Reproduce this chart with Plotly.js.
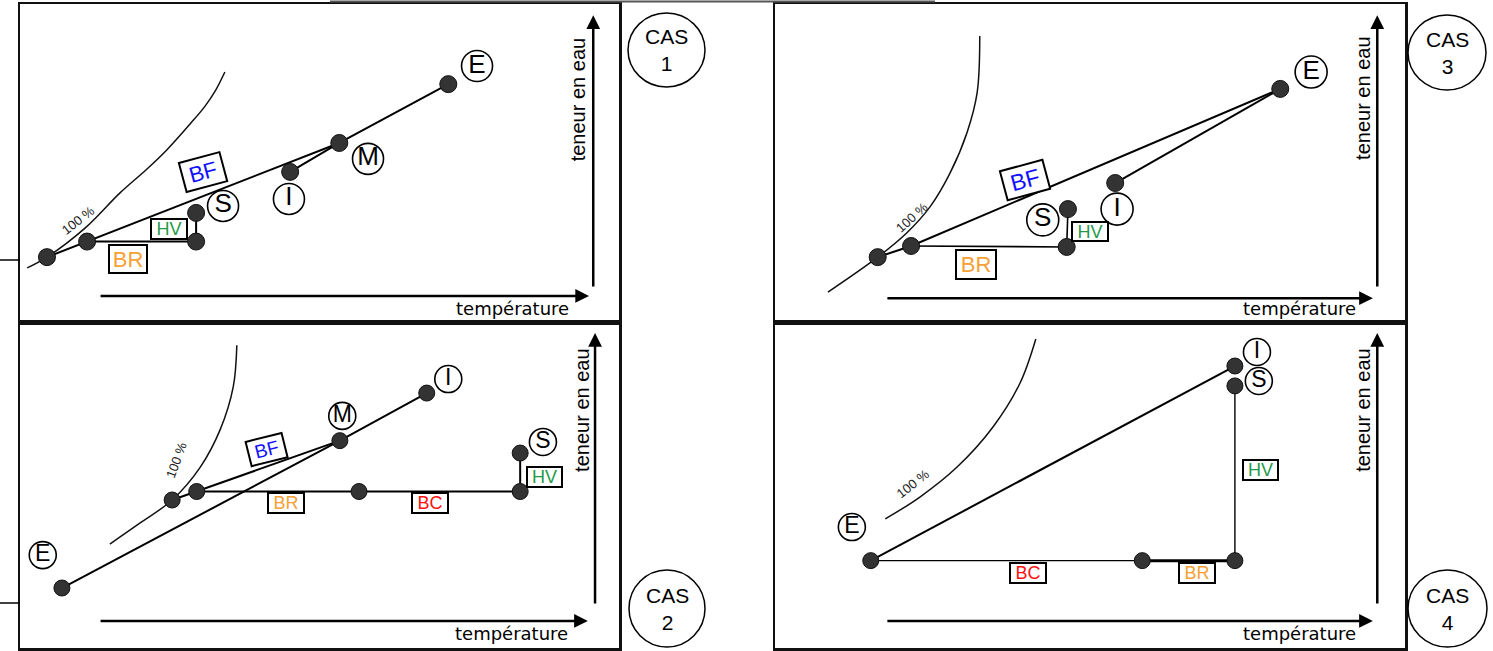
<!DOCTYPE html>
<html><head><meta charset="utf-8">
<script src="https://cdn.plot.ly/plotly-3.0.1.min.js"></script>
<style>html,body{margin:0;padding:0;background:#fff}</style>
</head><body><div id="chart" style="width:1493px;height:651px"></div>
<script>
// ---------------- DATA (temperature T / water content W, arbitrary units 0-100) ----------------
// CAS 1
const cas1_names = ['E','M','I','A','B','C','S'];
const cas1_T = [71.5, 53.3, 45.1, 4.5, 11.2, 29.4, 29.4];
const cas1_W = [74.8, 56.3, 47.2, 20.4, 25.3, 25.3, 34.3];
const cas1_paths = [['E','M','I'], ['M','B','A'], ['B','C','S']];
const cas1_curveT = [1.2, 4.5, 10.9, 16.7, 21.2, 24.5, 28.4, 30.9, 32.7, 34.2];
const cas1_curveW = [17.0, 20.4, 29.6, 40.6, 48.1, 54.1, 62.3, 67.9, 73.0, 78.6];
const cas1_labels = ['E','M','I','S'];
const cas1_labelT = [76.3, 58.1, 44.9, 33.9];
const cas1_labelW = [80.5, 51.3, 38.7, 36.5];
const cas1_boxes = ['BF','HV','BR'];
const cas1_boxT = [30.6, 24.9, 18.0];
const cas1_boxW = [47.2, 29.2, 19.8];

// CAS 2
const cas2_names = ['E','M','I','A','B','D','C','S'];
const cas2_T = [7.0, 53.4, 67.9, 25.4, 29.5, 56.6, 83.5, 83.5];
const cas2_W = [18.4, 63.6, 78.2, 45.4, 48.0, 48.0, 48.0, 59.8];
const cas2_paths = [['E','M','I'], ['M','B','A'], ['B','D','C','S']];
const cas2_curveT = [15.0, 20.0, 25.4, 30.1, 33.4, 35.6, 36.2];
const cas2_curveW = [31.9, 38.3, 45.4, 55.5, 66.9, 80.1, 92.9];
const cas2_labels = ['E','M','I','S'];
const cas2_labelT = [3.8, 53.8, 71.5, 87.3];
const cas2_labelW = [28.5, 71.2, 82.5, 63.2];
const cas2_boxes = ['BF','BR','BC','HV'];
const cas2_boxT = [41.2, 44.4, 68.4, 87.6];
const cas2_boxW = [61.0, 44.5, 44.5, 52.5];

// CAS 3
const cas3_names = ['E','I','A','B','C','S'];
const cas3_T = [80.2, 54.0, 16.3, 21.6, 46.3, 46.5];
const cas3_W = [73.3, 43.7, 20.4, 23.9, 23.6, 35.5];
const cas3_paths = [['E','I'], ['E','B','A'], ['B','C','S']];
const cas3_curveT = [8.4, 16.3, 20.9, 24.6, 27.8, 30.5, 32.1, 32.5];
const cas3_curveW = [9.4, 20.4, 28.0, 36.2, 46.9, 59.7, 72.3, 89.9];
const cas3_labels = ['E','S','I'];
const cas3_labelT = [85.1, 42.5, 54.3];
const cas3_labelW = [78.6, 32.1, 35.5];
const cas3_boxes = ['BF','HV','BR'];
const cas3_boxT = [39.7, 50.0, 31.9];
const cas3_boxW = [44.7, 28.6, 18.2];

// CAS 4
const cas4_names = ['E','I','D','C','S'];
const cas4_T = [15.2, 73.0, 58.3, 73.0, 73.0];
const cas4_W = [26.8, 86.5, 26.8, 26.8, 80.4];
const cas4_paths = [['E','I'], ['E','D'], ['D','C'], ['C','S']];
const cas4_curveT = [17.5, 23.0, 28.9, 34.6, 38.9, 41.4];
const cas4_curveW = [39.6, 46.3, 55.5, 67.8, 81.3, 94.8];
const cas4_labels = ['E','I','S'];
const cas4_labelT = [12.2, 76.5, 76.8];
const cas4_labelW = [37.1, 90.8, 81.9];
const cas4_boxes = ['BC','BR','HV'];
const cas4_boxT = [40.2, 67.0, 77.1];
const cas4_boxW = [23.0, 23.0, 54.6];

// "100 %" label positions
const pctT = [9.7, 26.2, 21.7, 21.9];
const pctW = [31.8, 57.7, 33.0, 50.6];

const casTitles = ['1','2','3','4'];
const axisTitleX = 'température';
const axisTitleY = 'teneur en eau';

// ---------------- LAYOUT / STYLE ----------------
const FW = 1493, FH = 651;
const FONT = 'Liberation Sans, Arial, sans-serif';
const boxColor = {BF:'#1010ff', HV:'#239a48', BR:'#f7a035', BC:'#ff1010'};
// panel pixel boxes [left,right,top,bottom]
const panelPx = [[20,619,4,322],[20,619,322,648],[775,1405,4,322],[775,1405,322,648]];
const pathWidth = [[2,2,2],[2,2,2],[2,2,1.6],[2,1.4,3,1.4]];
const boxAngle = [[-15,0,0],[-14,0,0,0],[-15,0,0],[0,0,0]];
const boxSize = [
  [[38,26,22],[32,16,18],[34,24,22]],
  [[33,21,19],[32,16,18],[32,16,18],[31,16,18]],
  [[40,26,23],[32,15,18],[36,25,22]],
  [[32,16,18],[32,16,18],[31,16,18]]
];
const pctAngle = [-38,-70,-42,-38];
const labelSize = [31,27,32,27];
const labelFont = [26,23,26,23];
const dotSize = [17,16,17,16];
// decorations in axis units: [hArrow y, hx0, hx1, vArrow x, vy0, vy1, tempRight, tempY, tenX, tenY]
const deco = [
  [8.2,13.2,95.0, 95.7,10.7,96.5, 92.0,4.1, 93.2,69.8],
  [8.3,13.2,94.8, 96.0,13.2,96.6, 91.8,4.6, 93.8,73.0],
  [7.5,17.6,94.9, 95.6,10.7,96.5, 92.5,4.1, 93.3,70.4],
  [8.3,17.6,94.9, 95.6,13.2,96.6, 92.5,4.6, 93.3,73.0]
];
const casCircles = [[628,705,13,87],[629,705,570,647],[1408,1486,15,90],[1408,1487,570,647]];

const panels = [
  {names:cas1_names,T:cas1_T,W:cas1_W,paths:cas1_paths,cT:cas1_curveT,cW:cas1_curveW,lab:cas1_labels,lT:cas1_labelT,lW:cas1_labelW,box:cas1_boxes,bT:cas1_boxT,bW:cas1_boxW},
  {names:cas2_names,T:cas2_T,W:cas2_W,paths:cas2_paths,cT:cas2_curveT,cW:cas2_curveW,lab:cas2_labels,lT:cas2_labelT,lW:cas2_labelW,box:cas2_boxes,bT:cas2_boxT,bW:cas2_boxW},
  {names:cas3_names,T:cas3_T,W:cas3_W,paths:cas3_paths,cT:cas3_curveT,cW:cas3_curveW,lab:cas3_labels,lT:cas3_labelT,lW:cas3_labelW,box:cas3_boxes,bT:cas3_boxT,bW:cas3_boxW},
  {names:cas4_names,T:cas4_T,W:cas4_W,paths:cas4_paths,cT:cas4_curveT,cW:cas4_curveW,lab:cas4_labels,lT:cas4_labelT,lW:cas4_labelW,box:cas4_boxes,bT:cas4_boxT,bW:cas4_boxW}
];

const traces = [];
const annotations = [];
const shapes = [];
const layout = {
  width: FW, height: FH, margin:{l:0,r:0,t:0,b:0},
  paper_bgcolor:'#ffffff', plot_bgcolor:'rgba(0,0,0,0)', showlegend:false,
  font:{family:FONT, color:'#000'}
};

panels.forEach((p, i) => {
  const n = i + 1;
  const xa = n === 1 ? 'x' : 'x' + n, ya = n === 1 ? 'y' : 'y' + n;
  const xk = n === 1 ? 'xaxis' : 'xaxis' + n, yk = n === 1 ? 'yaxis' : 'yaxis' + n;
  const [L,R,Tp,B] = panelPx[i];
  const axBase = {range:[0,100], showgrid:false, zeroline:false, showticklabels:false, ticks:'',
    showline:true, mirror:true, linewidth:2.5, linecolor:'#111', fixedrange:true};
  layout[xk] = Object.assign({}, axBase, {domain:[L/FW, R/FW], anchor:ya});
  layout[yk] = Object.assign({}, axBase, {domain:[1-B/FH, 1-Tp/FH], anchor:xa});

  // saturation curve
  traces.push({type:'scatter', mode:'lines', x:p.cT, y:p.cW, xaxis:xa, yaxis:ya,
    line:{color:'#111', width:1.5, shape:'spline', smoothing:1}, hoverinfo:'skip'});
  // process paths
  p.paths.forEach((path, k) => {
    traces.push({type:'scatter', mode:'lines',
      x: path.map(nm => p.T[p.names.indexOf(nm)]),
      y: path.map(nm => p.W[p.names.indexOf(nm)]),
      xaxis:xa, yaxis:ya, line:{color:'#000', width:pathWidth[i][k]}, hoverinfo:'skip'});
  });
  // state points
  traces.push({type:'scatter', mode:'markers', x:p.T, y:p.W, xaxis:xa, yaxis:ya,
    marker:{size:dotSize[i], color:'#333', line:{color:'#111', width:1}}, hoverinfo:'skip'});
  // circled letters
  traces.push({type:'scatter', mode:'markers+text', x:p.lT, y:p.lW, text:p.lab, xaxis:xa, yaxis:ya,
    textposition:'middle center', textfont:{family:FONT, size:labelFont[i], color:'#000'},
    marker:{size:labelSize[i], color:'#fff', line:{color:'#000', width:1.6}}, hoverinfo:'skip'});
  // boxed labels
  p.box.forEach((b, k) => {
    const [bw,bh,bf] = boxSize[i][k];
    annotations.push({xref:xa, yref:ya, x:p.bT[k], y:p.bW[k], text:b, showarrow:false,
      font:{family:FONT, size:bf, color:boxColor[b]}, bgcolor:'#fff', bordercolor:'#000',
      borderwidth:2, borderpad:1, width:bw, height:bh, textangle:boxAngle[i][k], align:'center', valign:'middle'});
  });
  // 100 %
  annotations.push({xref:xa, yref:ya, x:pctT[i], y:pctW[i], text:'100 %', showarrow:false,
    textangle:pctAngle[i], font:{family:FONT, size:13, color:'#222'}});
  // axis arrows
  const d = deco[i];
  annotations.push({xref:xa, yref:ya, axref:xa, ayref:ya, x:d[2], y:d[0], ax:d[1], ay:d[0], text:'',
    showarrow:true, arrowhead:2, arrowsize:1.1, arrowwidth:2.5, arrowcolor:'#000'});
  annotations.push({xref:xa, yref:ya, axref:xa, ayref:ya, x:d[3], y:d[5], ax:d[3], ay:d[4], text:'',
    showarrow:true, arrowhead:2, arrowsize:1.1, arrowwidth:2.5, arrowcolor:'#000'});
  annotations.push({xref:xa, yref:ya, x:d[6], y:d[7], text:axisTitleX, showarrow:false,
    xanchor:'right', yanchor:'middle', font:{family:'DejaVu Sans, sans-serif', size:18, color:'#000'}});
  annotations.push({xref:xa, yref:ya, x:d[8], y:d[9], text:axisTitleY, showarrow:false,
    textangle:-90, xanchor:'center', yanchor:'middle', font:{family:FONT, size:20, color:'#000'}});
  // CAS circle
  const c = casCircles[i];
  shapes.push({type:'circle', xref:'paper', yref:'paper', x0:c[0]/FW, x1:c[1]/FW, y0:1-c[3]/FH, y1:1-c[2]/FH,
    line:{color:'#000', width:1.5}, fillcolor:'#fff'});
  annotations.push({xref:'paper', yref:'paper', x:(c[0]+c[1])/2/FW, y:1-(c[2]+c[3])/2/FH,
    text:'CAS<br>' + casTitles[i], showarrow:false, xanchor:'center', yanchor:'middle',
    font:{family:FONT, size:21, color:'#000'}});
});

// decorative paper lines
shapes.push({type:'line', xref:'paper', yref:'paper', x0:330/FW, x1:935/FW, y0:1-1.5/FH, y1:1-1.5/FH, line:{color:'#555', width:2}});
shapes.push({type:'line', xref:'paper', yref:'paper', x0:0, x1:20/FW, y0:1-260/FH, y1:1-260/FH, line:{color:'#000', width:1.5}});
shapes.push({type:'line', xref:'paper', yref:'paper', x0:0, x1:20/FW, y0:1-603/FH, y1:1-603/FH, line:{color:'#000', width:1.5}});

layout.annotations = annotations;
layout.shapes = shapes;
Plotly.newPlot('chart', traces, layout, {staticPlot:true, displayModeBar:false});
</script></body></html>
